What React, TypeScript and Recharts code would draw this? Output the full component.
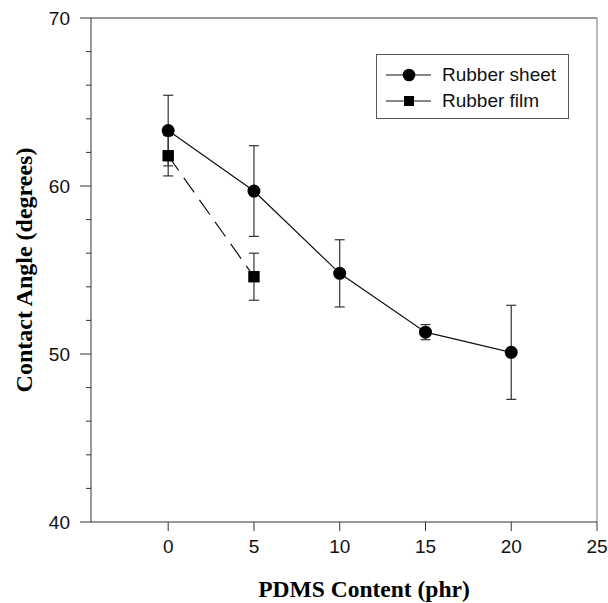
import React from 'react';
import { LineChart, Line, XAxis, YAxis, ErrorBar, ReferenceLine } from 'recharts';

const pdmsContent = [0, 5, 10, 15, 20];
const sheetAngle = [63.3, 59.7, 54.8, 51.3, 50.1];
const sheetError = [2.1, 2.7, 2.0, 0.45, 2.8];
const filmContent = [0, 5];
const filmAngle = [61.8, 54.6];
const filmError = [1.2, 1.4];
const xTicks = [0, 5, 10, 15, 20, 25];
const yTicks = [40, 42, 44, 46, 48, 50, 52, 54, 56, 58, 60, 62, 64, 66, 68, 70];
const legendItems = [
    { label: 'Rubber sheet', shape: 'circle' },
    { label: 'Rubber film', shape: 'square' },
];

const sheetData = pdmsContent.map((x, i) => ({ x, sheet: sheetAngle[i], sheetErr: sheetError[i] }));
const filmData = filmContent.map((x, i) => ({ x, film: filmAngle[i], filmErr: filmError[i] }));

const sans = '"Liberation Sans", Arial, sans-serif';
const serif = '"Liberation Serif", "Times New Roman", serif';
const axisColor = '#333';

const YTick = (props: any) => {
    const { x, y, payload } = props;
    const major = payload.value % 10 === 0;
    return (
        <g>
            <line x1={x - (major ? 11 : 5)} x2={x} y1={y} y2={y} stroke={axisColor} />
            {major && (
                <text x={x - 21} y={y} dy="0.35em" textAnchor="end" fontSize={19} fontFamily={sans} fill="#111">
                    {payload.value}
                </text>
            )}
        </g>
    );
};

const XTick = (props: any) => {
    const { x, y, payload } = props;
    return (
        <g>
            <line x1={x} x2={x} y1={y} y2={y + 9} stroke={axisColor} />
            <text x={x} y={y + 24} dy="0.35em" textAnchor="middle" fontSize={19} fontFamily={sans} fill="#111">
                {payload.value}
            </text>
        </g>
    );
};

const SquareDot = (props: any) => {
    const { cx, cy, index } = props;
    if (cx == null || cy == null) return <g key={`sq-${index}`} />;
    return <rect key={`sq-${index}`} x={cx - 5.7} y={cy - 5.7} width={11.4} height={11.4} fill="#000" />;
};

// legend box sits inside the plot, upper right
const LegendBox = () => (
    <div
        style={{
            position: 'absolute',
            left: 376,
            top: 54,
            width: 193,
            height: 65,
            boxSizing: 'border-box',
            border: '1px solid #555',
            background: '#fff',
            fontFamily: sans,
            fontSize: 19,
            color: '#111',
        }}
    >
        {legendItems.map((row, i) => (
            <div
                key={row.label}
                style={{ position: 'absolute', left: 0, top: 9 + i * 26, height: 22, display: 'flex', alignItems: 'center' }}
            >
                <svg width={60} height={22} style={{ display: 'block' }}>
                    <line x1={9} x2={54} y1={11} y2={11} stroke="#111" strokeWidth={1} />
                    {row.shape === 'circle' ? (
                        <circle cx={32} cy={11} r={6.3} fill="#000" />
                    ) : (
                        <rect x={27} y={6} width={10} height={10} fill="#000" />
                    )}
                </svg>
                <span style={{ marginLeft: 5, lineHeight: '22px', whiteSpace: 'nowrap' }}>{row.label}</span>
            </div>
        ))}
    </div>
);

export default function App() {
    return (
        <div style={{ position: 'absolute', left: 0, top: 0, width: 608, height: 603, background: '#fff' }}>
            <LineChart width={608} height={603} margin={{ top: 18, right: 11, left: 0, bottom: 0 }}>
                <XAxis
                    dataKey="x"
                    type="number"
                    domain={[-4.5, 25]}
                    ticks={xTicks}
                    allowDataOverflow
                    height={81}
                    tickSize={0}
                    tickMargin={0}
                    tickLine={false}
                    tick={<XTick />}
                    stroke={axisColor}
                    label={{
                        content: () => (
                            <text x={364} y={589} dy="0.35em" textAnchor="middle" fontSize={23.5} fontWeight="bold" fontFamily={serif} fill="#000">
                                PDMS Content (phr)
                            </text>
                        ),
                    }}
                />
                <YAxis
                    type="number"
                    domain={[40, 70]}
                    ticks={yTicks}
                    interval={0}
                    allowDataOverflow
                    width={91}
                    tickSize={0}
                    tickMargin={0}
                    tickLine={false}
                    tick={<YTick />}
                    stroke={axisColor}
                    label={{
                        content: () => (
                            <text
                                x={24}
                                y={270}
                                dy="0.35em"
                                textAnchor="middle"
                                transform="rotate(-90 24 270)"
                                fontSize={24}
                                fontWeight="bold"
                                fontFamily={serif}
                                fill="#000"
                            >
                                Contact Angle (degrees)
                            </text>
                        ),
                    }}
                />
                <ReferenceLine y={70} stroke={axisColor} />
                <ReferenceLine x={25} stroke="#777" />
                <Line
                    data={filmData}
                    dataKey="film"
                    name="Rubber film"
                    stroke="#111"
                    strokeWidth={1.2}
                    strokeDasharray="18 9"
                    dot={<SquareDot />}
                    isAnimationActive={false}
                >
                    <ErrorBar dataKey="filmErr" width={5} stroke="#333" strokeWidth={1.2} direction="y" />
                </Line>
                <Line
                    data={sheetData}
                    dataKey="sheet"
                    name="Rubber sheet"
                    stroke="#111"
                    strokeWidth={1.2}
                    dot={{ r: 6.5, fill: '#000', stroke: '#000', strokeWidth: 0 }}
                    isAnimationActive={false}
                >
                    <ErrorBar dataKey="sheetErr" width={5} stroke="#333" strokeWidth={1.2} direction="y" />
                </Line>
            </LineChart>
            <LegendBox />
        </div>
    );
}
